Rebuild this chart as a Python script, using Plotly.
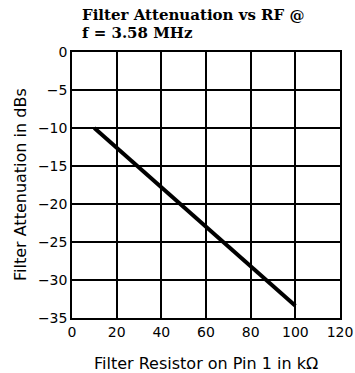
import plotly.graph_objects as go

resistor_k = [10, 100]
attenuation_db = [-10, -33.4]
x_ticks = [0, 20, 40, 60, 80, 100, 120]
y_ticks = [0, -5, -10, -15, -20, -25, -30, -35]
title_lines = ["Filter Attenuation vs RF @", "f = 3.58 MHz"]

fig = go.Figure()
fig.add_trace(go.Scatter(x=resistor_k, y=attenuation_db, mode="lines",
                         line=dict(color="black", width=4), showlegend=False))

title_font = dict(family="DejaVu Serif", size=15, color="black")
fig.update_layout(
    width=355, height=373,
    margin=dict(l=72, r=15, t=52, b=55),
    paper_bgcolor="white", plot_bgcolor="white",
    font=dict(family="DejaVu Sans", color="black"),
    xaxis=dict(range=[0, 120], tickvals=x_ticks, ticktext=[str(v) for v in x_ticks],
               showgrid=True, gridcolor="black", gridwidth=1.5,
               showline=True, linecolor="black", linewidth=1.5, mirror=True,
               ticks="", tickfont=dict(size=14), zeroline=False, automargin=False),
    yaxis=dict(range=[-35, 0], tickvals=y_ticks,
               ticktext=[("−" + str(-v)) if v < 0 else str(v) for v in y_ticks],
               showgrid=True, gridcolor="black", gridwidth=1.5,
               showline=True, linecolor="black", linewidth=1.5, mirror=True,
               ticks="", tickfont=dict(size=14), zeroline=False, automargin=False),
    annotations=[
        dict(text="<b>" + title_lines[0] + "</b>", xref="paper", yref="paper",
             x=0.03, y=1, xanchor="left", yanchor="middle", showarrow=False,
             yshift=37, font=title_font),
        dict(text="<b>" + title_lines[1] + "</b>", xref="paper", yref="paper",
             x=0.03, y=1, xanchor="left", yanchor="middle", showarrow=False,
             yshift=19, font=title_font),
        dict(text="Filter Resistor on Pin 1 in kΩ", xref="paper", yref="paper",
             x=0.5, y=0, xanchor="center", yanchor="middle", showarrow=False, yshift=-45,
             font=dict(size=16)),
        dict(text="Filter Attenuation in dBs", xref="paper", yref="paper", textangle=-90,
             x=0, y=0.5, xanchor="center", yanchor="middle", showarrow=False, xshift=-52,
             font=dict(size=16)),
    ],
)

fig.write_html("out.html", config={"displayModeBar": False},
               post_script="document.body.style.margin='0';document.body.style.overflow='hidden';")
